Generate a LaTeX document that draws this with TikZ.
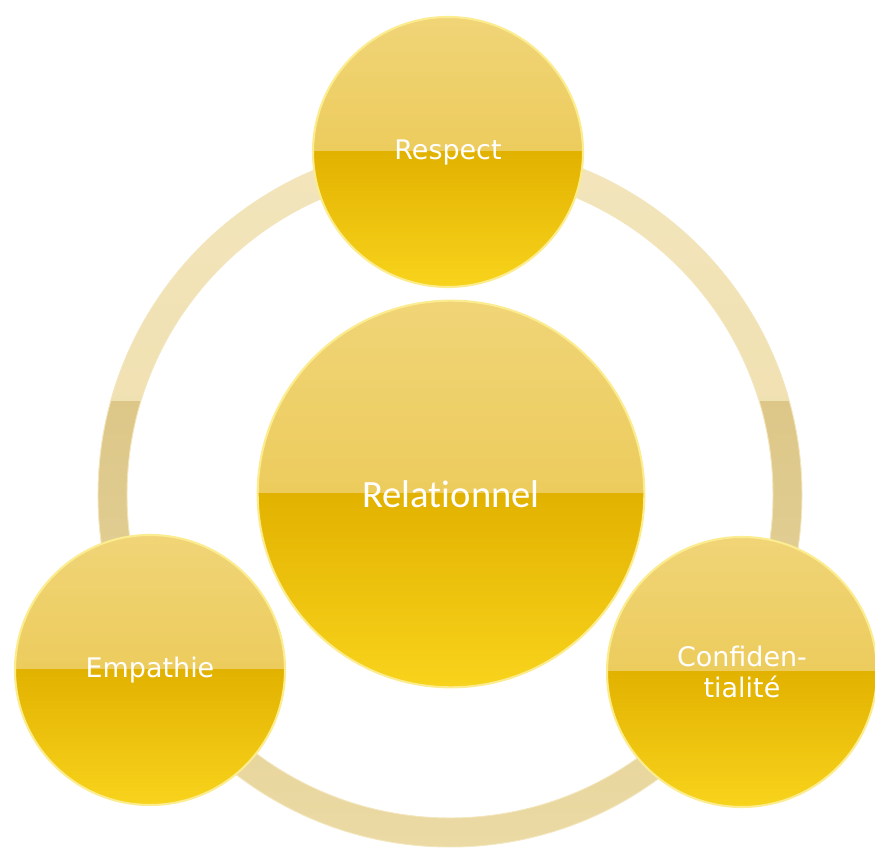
\documentclass[tikz,border=0pt]{standalone}
\usepackage{fontspec}
\newfontfamily\verd{DejaVu Sans}
\newfontfamily\calib[Ligatures=NoCommon]{Carlito}
\definecolor{upA}{HTML}{F0D477}
\definecolor{upB}{HTML}{E9C443}
\definecolor{loA}{HTML}{E2B200}
\definecolor{loB}{HTML}{F8D31C}
\definecolor{rimc}{HTML}{FCEC90}
\definecolor{ringA}{HTML}{F3E5BC}
\definecolor{ringB}{HTML}{ECDAA2}
\definecolor{ringC}{HTML}{D4BB78}
\definecolor{ringD}{HTML}{EBDAA4}
\begin{document}
\begin{tikzpicture}[x=0.03cm,y=0.03cm,
  ball/.style={circle, minimum size=#1, inner sep=0pt, text=white,
    draw=rimc, line width=1.8pt, align=center,
    path picture={
      \shade[top color=upA, bottom color=upB]
        (path picture bounding box.north west) rectangle (path picture bounding box.east);
      \shade[top color=loA, bottom color=loB]
        (path picture bounding box.west) rectangle (path picture bounding box.south east);
    }},
  small/.style={ball=8.1cm, font=\verd\fontsize{23}{27}\selectfont},
  big/.style={ball=11.6cm, font=\calib\fontsize{33}{39}\selectfont}]
\useasboundingbox (0,0) rectangle (875,848);

\coordinate (mid) at (450,353);

% ring
\begin{scope}
\clip (0,446) rectangle (875,848);
\shade[even odd rule, top color=ringA, bottom color=ringB] (mid) circle (352) (mid) circle (323);
\end{scope}
\begin{scope}
\clip (0,0) rectangle (875,446);
\shade[even odd rule, top color=ringC, bottom color=ringD] (mid) circle (352) (mid) circle (323);
\end{scope}
\draw[ringA, line width=0.8pt] (mid) circle (352) (mid) circle (323);

\node[small] (respect) at (448,696) {Respect};
\node[small] (empathie) at (150,178) {Empathie};
\node[small] (confid) at (742,176) {Confiden-\\tialité};
\node[big] (relat) at (451,354) {Relationnel};
\end{tikzpicture}
\end{document}
